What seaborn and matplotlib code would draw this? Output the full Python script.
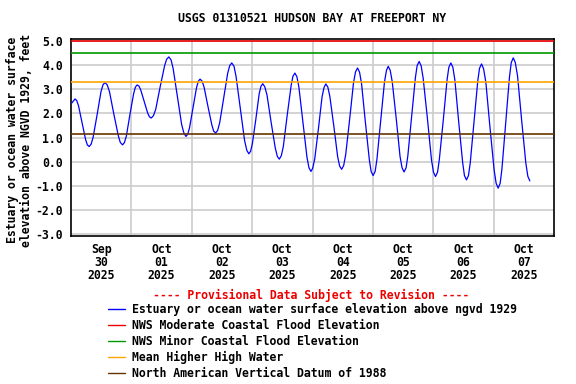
import pandas as pd
import matplotlib
matplotlib.use("Agg")
import matplotlib.pyplot as plt
from matplotlib.lines import Line2D
import seaborn as sns

# water level readings: hours after 2025-09-30 00:00, feet above NGVD 1929
hours = [0.3, 1.6, 3.0, 4.4, 5.8, 7.2, 8.8, 10.4, 11.9, 13.5, 15.3, 17.0, 18.8, 20.5,
         22.0, 23.4, 24.9, 26.3, 27.7, 29.1, 30.5, 31.9, 33.7, 35.4, 37.2, 38.9, 40.6,
         42.3, 44.0, 45.7, 47.1, 48.5, 49.9, 51.3, 52.9, 54.4, 56.0, 57.5, 59.1, 60.7,
         62.3, 63.9, 65.6, 67.3, 69.0, 70.7, 72.1, 73.5, 74.8, 76.2, 77.9, 79.5, 81.2,
         82.8, 84.4, 85.9, 87.5, 89.0, 90.6, 92.2, 93.8, 95.4, 96.9, 98.4, 99.8, 101.3,
         102.9, 104.5, 106.0, 107.6, 109.2, 110.8, 112.3, 113.9, 115.5, 117.0, 118.6,
         120.1, 121.6, 123.1, 124.6, 126.1, 127.7, 129.3, 130.8, 132.4, 133.9, 135.4,
         136.9, 138.4, 140.0, 141.7, 143.3, 144.9, 146.4, 148.0, 149.5, 151.0, 152.6,
         154.1, 155.7, 157.2, 158.7, 160.2, 161.7, 163.2, 164.9, 166.5, 168.2, 169.8,
         171.3, 172.8, 174.3, 175.8, 177.5, 179.1, 180.8, 182.4]
levels = [2.43, 2.60, 2.31, 1.62, 0.92, 0.63, 1.02, 1.96, 2.89, 3.28, 2.90, 1.99, 1.08, 0.70,
          1.06, 1.94, 2.82, 3.18, 2.98, 2.50, 2.01, 1.81, 2.18, 3.08, 3.97, 4.34, 3.86,
          2.70, 1.53, 1.05, 1.40, 2.24, 3.07, 3.42, 3.09, 2.31, 1.52, 1.19, 1.61, 2.64,
          3.67, 4.09, 3.54, 2.21, 0.88, 0.33, 0.75, 1.78, 2.81, 3.23, 2.77, 1.67, 0.57,
          0.11, 0.63, 1.89, 3.15, 3.67, 3.08, 1.64, 0.19, -0.40, 0.13, 1.41, 2.69, 3.22,
          2.70, 1.46, 0.21, -0.31, 0.30, 1.79, 3.27, 3.88, 3.23, 1.66, 0.08, -0.57,
          0.09, 1.69, 3.29, 3.95, 3.31, 1.77, 0.22, -0.42, 0.25, 1.87, 3.48, 4.15,
          3.45, 1.77, 0.08, -0.61, 0.08, 1.74, 3.40, 4.09, 3.38, 1.67, -0.04, -0.75,
          -0.05, 1.65, 3.35, 4.05, 3.30, 1.48, -0.34, -1.09, -0.30, 1.61, 3.51, 4.30,
          3.56, 1.76, -0.05, -0.79]

# extra readings just before/after each high and low tide
turn_hours = [2.3, 6.5, 8.0, 12.7, 14.4, 19.6, 21.2, 25.6, 27.0, 31.2, 32.8, 38.0, 39.8,
              44.9, 46.4, 50.6, 52.1, 56.7, 58.3, 63.1, 64.8, 69.9, 71.4, 75.5, 77.0, 82.0,
              83.6, 88.2, 89.8, 94.6, 96.1, 100.6, 102.1, 106.8, 108.4, 113.1, 114.7,
              119.3, 120.9, 125.4, 126.9, 131.6, 133.2, 137.6, 139.2, 144.1, 145.7, 150.2,
              151.8, 156.4, 158.0, 162.4, 164.0, 169.0, 170.6, 175.0, 176.6, 181.6]
turn_levels = [2.53, 0.70, 0.73, 3.18, 3.18, 0.80, 0.79, 3.09, 3.13, 1.86, 1.91, 4.24, 4.21,
               1.18, 1.14, 3.33, 3.34, 1.27, 1.30, 3.98, 3.95, 0.47, 0.44, 3.12, 3.11, 0.23,
               0.25, 3.53, 3.52, -0.25, -0.26, 3.08, 3.09, -0.18, -0.15, 3.72, 3.71, -0.40,
               -0.40, 3.78, 3.78, -0.25, -0.25, 3.98, 3.97, -0.43, -0.43, 3.91, 3.91, -0.57,
               -0.57, 3.87, 3.85, -0.89, -0.89, 4.10, 4.11, -0.60]

# reference elevations (ft)
moderate_flood = 5.0
minor_flood = 4.5
mean_higher_high = 3.3
navd_1988 = 1.14

day_labels = ["Sep\n30\n2025", "Oct\n01\n2025", "Oct\n02\n2025", "Oct\n03\n2025",
              "Oct\n04\n2025", "Oct\n05\n2025", "Oct\n06\n2025", "Oct\n07\n2025"]
y_ticks = [-3, -2, -1, 0, 1, 2, 3, 4, 5]

legend_labels = ["Estuary or ocean water surface elevation above ngvd 1929",
                 "NWS Moderate Coastal Flood Elevation",
                 "NWS Minor Coastal Flood Elevation",
                 "Mean Higher High Water",
                 "North American Vertical Datum of 1988"]
colors = ["#0000ff", "#ee0000", "#009900", "#ffa500", "#663300"]

sns.set_style("white")
plt.rcParams["font.family"] = ["DejaVu Sans Mono"]
plt.rcParams["font.weight"] = "bold"
plt.rcParams["font.size"] = 8.3
plt.rcParams["text.color"] = "black"
plt.rcParams["xtick.color"] = "black"
plt.rcParams["ytick.color"] = "black"

start = pd.Timestamp("2025-09-30")
df = pd.DataFrame({"hours": hours + turn_hours, "level": levels + turn_levels})
df = df.sort_values("hours")
df["time"] = start + pd.to_timedelta(df["hours"], unit="h")

fig = plt.figure(figsize=(5.76, 3.84), dpi=100)
ax = fig.add_axes([71 / 576, 1 - 236 / 384, (554 - 71) / 576, (236 - 39) / 384])

sns.lineplot(data=df, x="time", y="level", ax=ax, color=colors[0], lw=0.9,
             sort=False, zorder=3)
for val, c in zip([moderate_flood, minor_flood, mean_higher_high, navd_1988], colors[1:]):
    ax.axhline(val, color=c, lw=1.2, zorder=4)

ax.set_xlim(start, start + pd.Timedelta(days=8))
ax.set_ylim(-3.07, 5.08)
noons = [start + pd.Timedelta(hours=12 + 24 * i) for i in range(len(day_labels))]
midnights = [start + pd.Timedelta(days=i) for i in range(1, 8)]
ax.set_xticks(noons)
ax.set_xticklabels(day_labels, linespacing=1.0)
ax.set_xticks(midnights, minor=True)
ax.set_yticks(y_ticks)
ax.set_yticklabels([f"{v:.1f}" for v in y_ticks])
ax.grid(which="minor", axis="x", color="#cccccc", lw=1.2)
ax.grid(which="major", axis="y", color="#cccccc", lw=1.2)
ax.tick_params(which="both", length=0)
ax.tick_params(axis="x", pad=5)
ax.tick_params(axis="y", pad=6)
ax.set_xlabel("")
ax.set_ylabel("")
for s in ax.spines.values():
    s.set_color("black")
    s.set_linewidth(1.2)

fig.text(312 / 576, 1 - 19 / 384, "USGS 01310521 HUDSON BAY AT FREEPORT NY",
         ha="center", va="center")
fig.text(20 / 576, 1 - 140 / 384,
         "Estuary or ocean water surface\nelevation above NGVD 1929, feet",
         rotation=90, ha="center", va="center", multialignment="center", linespacing=1.1)
fig.text(311 / 576, 1 - 295 / 384, "---- Provisional Data Subject to Revision ----",
         color="#ee0000", ha="center", va="center")

handles = [Line2D([], [], color=c, lw=1) for c in colors]
fig.legend(handles, legend_labels, loc="upper left", bbox_to_anchor=(108 / 576, 1 - 303 / 384),
           frameon=False, borderpad=0, borderaxespad=0, handlelength=1.5,
           handletextpad=0.6, labelspacing=0.25, fontsize=8.3)

fig.savefig("out.png", dpi=100)
